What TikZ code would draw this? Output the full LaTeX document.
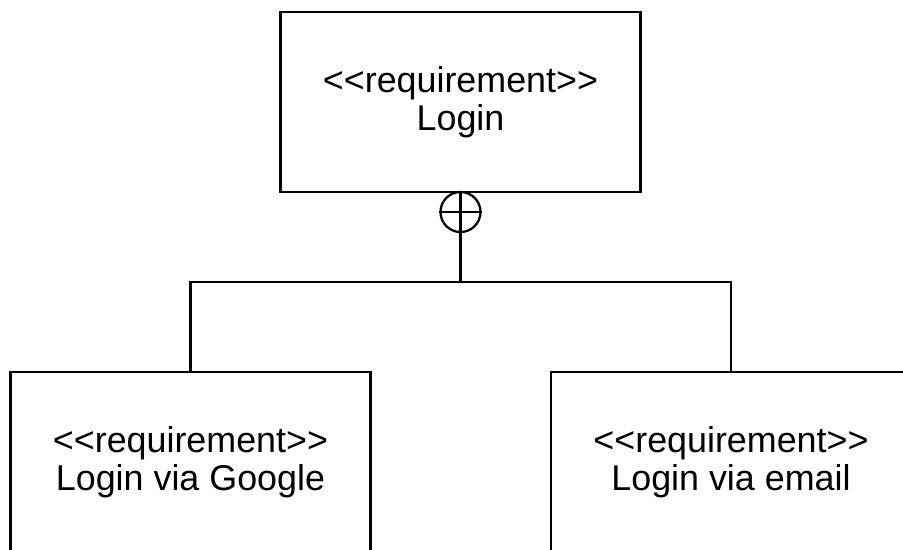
\documentclass[tikz,border=0pt]{standalone}
\usepackage{fontspec}
\setmainfont{Liberation Sans}
\begin{document}
\begin{tikzpicture}[x=0.025cm, y=-0.025cm, line width=1.6pt,
    req/.style={draw, rectangle, minimum width=9cm, minimum height=4.5cm, align=center, font=\fontsize{25.5}{27}\selectfont},
    xorc/.style={draw, circle, minimum size=1cm, inner sep=0pt}]
    \useasboundingbox (0,0) rectangle (903,549);
    \clip (0,0) rectangle (903,549);
    \node[req] (login) at (460.5,102) {<{}<requirement>{}>\\Login};
    \node[req] (google) at (190.5,462) {<{}<requirement>{}>\\Login via Google}; \node[req] (email) at (731,462) {<{}<requirement>{}>\\Login via email};
    \node[xorc] (xor) at (460.5,212) {}; \coordinate (bus) at (460.5,282);
    \draw (xor.north) -- (xor.south) (xor.west) -- (xor.east);% Plus
    \draw (xor) -- (bus);
    \draw (google.north) |- (bus) -| (email.north);
\end{tikzpicture}
\end{document}
